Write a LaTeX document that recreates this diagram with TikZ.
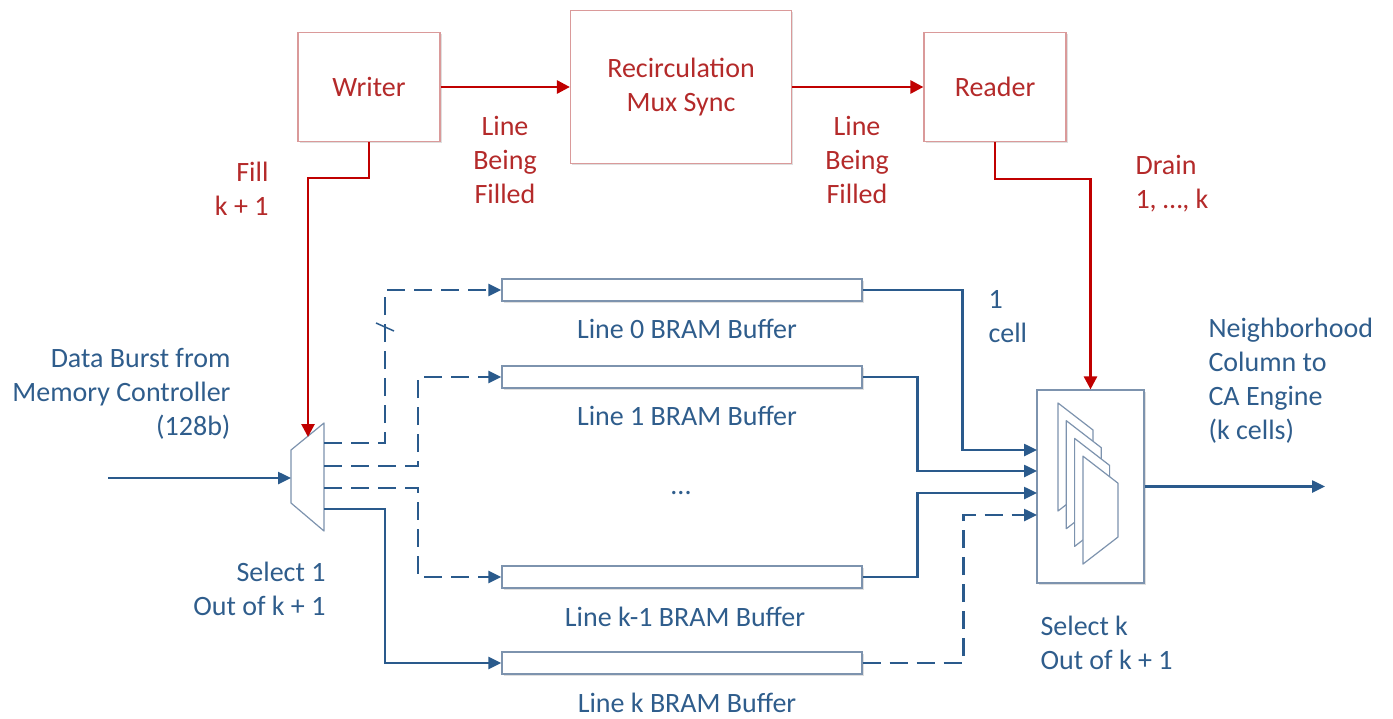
\documentclass[tikz,border=0pt]{standalone}
\usepackage{fontspec}
\setmainfont{Carlito}
\usetikzlibrary{arrows.meta, positioning, shadows}

\definecolor{redline}{HTML}{C00000}
\definecolor{redtext}{HTML}{B42A2A}
\definecolor{redbox}{HTML}{DA9A9A}
\definecolor{blueline}{HTML}{2A5A8C}
\definecolor{bluetext}{HTML}{2F5D8C}
\definecolor{bluebox}{HTML}{7D93AE}

\begin{document}
\begin{tikzpicture}[x=1pt,y=-1pt,node distance=87pt,on grid,
    every node/.style={font=\fontsize{28}{34}\selectfont},
    ctrl/.style={draw=redbox,line width=1.2pt,fill=white,text=redtext,align=center,
      drop shadow={shadow xshift=1.5pt,shadow yshift=-1.5pt,opacity=0.25}},
    buf/.style={draw=bluebox,line width=1.2pt,fill=white,minimum width=360pt,
      minimum height=22pt,inner sep=0pt,
      drop shadow={shadow xshift=1.5pt,shadow yshift=-1.5pt,opacity=0.25}},
    mux/.style={draw=bluebox,line width=1.2pt,fill=white,line join=round},
    rlabel/.style={text=redtext,align=center},
    blabel/.style={text=bluetext,align=center},
    redarrow/.style={draw=redline,line width=2.7pt,-{Triangle[length=13pt,width=13pt]}},
    bluearrow/.style={draw=blueline,line width=2.5pt,-{Triangle[length=13pt,width=12pt]}},
    dasharrow/.style={bluearrow,dash pattern=on 18pt off 9pt}]
  \useasboundingbox (0,0) rectangle (1393,718);

  % control blocks
  \node[ctrl,minimum width=142pt,minimum height=109pt] (writer) at (369,87) {Writer};
  \node[ctrl,minimum width=221pt,minimum height=153pt] (recirc) at (681,87) {Recirculation\\Mux Sync};
  \node[ctrl,minimum width=142pt,minimum height=109pt] (reader) at (995,87) {Reader};

  \node[rlabel] (filled1) at (505,160) {Line\\Being\\Filled};
  \node[rlabel] (filled2) at (857,160) {Line\\Being\\Filled};
  \node[rlabel,align=right,anchor=east] (fill) at (272,189) {Fill\\k + 1};
  \node[rlabel,align=left,anchor=west] (drain) at (1132,184) {Drain\\1, …, k};

  % line buffers
  \node[buf] (buf0) at (682,290) {};
  \node[buf] (buf1) [below=of buf0] {};
  \node[buf] (buf2) [below=200pt of buf1] {};
  \node[buf] (buf3) [below=86pt of buf2] {};
  \node[blabel,xshift=5pt] (lbl0) [below=39pt of buf0] {Line 0 BRAM Buffer};
  \node[blabel,xshift=5pt] (lbl1) [below=39pt of buf1] {Line 1 BRAM Buffer};
  \node[blabel,xshift=3pt] (lbl2) [below=40pt of buf2] {Line k-1 BRAM Buffer};
  \node[blabel,xshift=5pt] (lbl3) [below=40pt of buf3] {Line k BRAM Buffer};
  \node[text=bluetext] (dots) at (681,493) {...};

  % input demux
  \draw[mux] (291,450) -- (324,423) -- (324,531) -- (291,503) -- cycle;
  \coordinate (muxtop) at (308,437);
  \coordinate (muxin) at (291,478);
  \coordinate (datain) at (108,478);
  \foreach \i/\y in {0/443,1/466,2/488,3/509}
    \coordinate (mo\i) at (324,\y);

  % output selector
  \node[draw=bluebox,line width=1.2pt,fill=white,minimum width=107pt,minimum height=193pt,
    drop shadow={shadow xshift=1.5pt,shadow yshift=-1.5pt,opacity=0.25}] (sel) at (1090.5,486.5) {};
  \foreach \i in {0,...,3}
    \draw[mux,shift={(\i*8.3,\i*17.7)}] (1058,403) -- ++(35,27) -- ++(0,54) -- ++(-35,27) -- cycle;
  \foreach \i/\y in {0/450,1/471,2/493,3/515}
    \coordinate (si\i) at (1037,\y);
  \coordinate (nbout) at (1325,486.5);

  \node[blabel,align=right,anchor=east] (burst) at (234,394) {Data Burst from\\Memory Controller\\(128b)};
  \node[blabel,align=right,anchor=east] (sel1) at (329,589) {Select 1\\Out of k + 1};
  \node[blabel,align=left,anchor=west] (cell) at (985,317) {1\\cell};
  \node[blabel,align=left,anchor=west] (nbhd) at (1205,381) {Neighborhood\\Column to\\CA Engine\\(k cells)};
  \node[blabel,align=left,anchor=west] (selk) at (1037,643) {Select k\\Out of k + 1};

  % control paths
  \draw[redarrow] (writer) -- (recirc);
  \draw[redarrow] (recirc) -- (reader);
  \draw[redarrow] (writer.south) -- ++(0,36) -| (muxtop);
  \draw[redarrow] (reader.south) -- ++(0,37) -| (sel.north);

  % data paths
  \draw[bluearrow] (datain) -- (muxin);
  \draw[dasharrow] (mo0) -- ++(61,0) |- (buf0.west);
  \draw[dasharrow] (mo1) -- ++(94,0) |- (buf1.west);
  \draw[dasharrow] (mo2) -- ++(94,0) |- (buf2.west);
  \draw[bluearrow] (mo3) -- ++(61,0) |- (buf3.west);
  \draw[blueline,line width=1.5pt] (376,323) -- (394,331);

  \draw[bluearrow] (buf0.east) -- ++(100,0) |- (si0);
  \draw[bluearrow] (buf1.east) -- ++(55,0) |- (si1);
  \draw[bluearrow] (buf2.east) -- ++(55,0) |- (si2);
  \draw[dasharrow] (buf3.east) -- ++(101,0) |- (si3);
  \draw[bluearrow] (sel.east) -- (nbout);
\end{tikzpicture}
\end{document}
